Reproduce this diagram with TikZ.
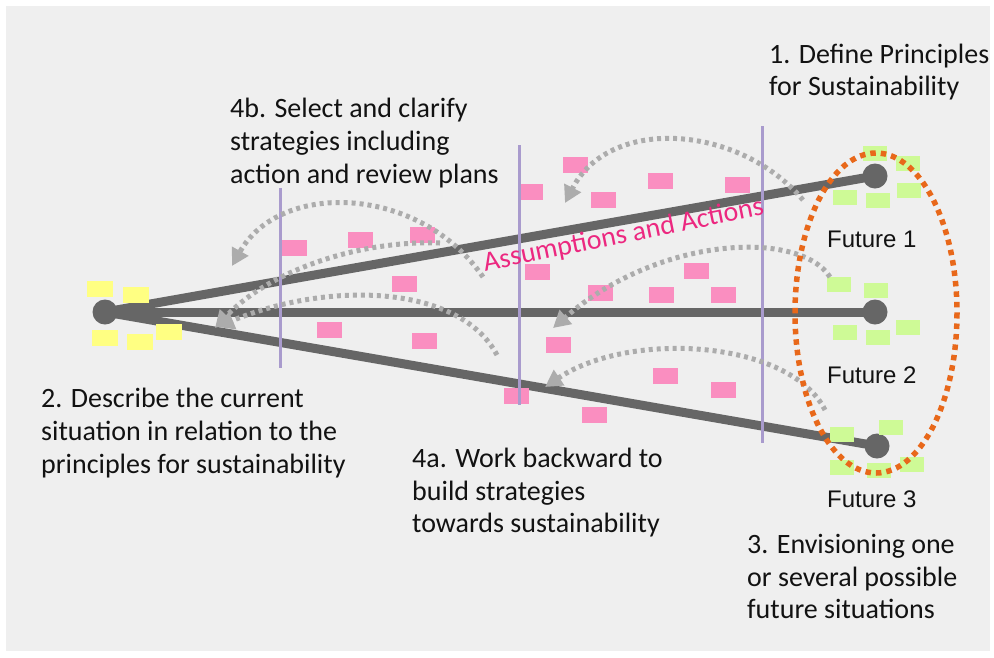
\documentclass[tikz,border=0pt]{standalone}
\usepackage{fontspec}
\setmainfont{Carlito}
\newfontfamily\arialf{Liberation Sans}
\usetikzlibrary{arrows.meta}
\definecolor{bggray}{RGB}{239,239,239}
\definecolor{linegray}{RGB}{102,102,102}
\definecolor{purp}{RGB}{169,155,205}
\definecolor{pinkc}{RGB}{250,142,192}
\definecolor{greenc}{RGB}{206,250,150}
\definecolor{yellowc}{RGB}{255,255,130}
\definecolor{arrgray}{RGB}{172,172,172}
\definecolor{orangec}{RGB}{232,104,26}
\definecolor{pinktext}{RGB}{236,40,128}
\definecolor{txtc}{RGB}{18,18,18}
\tikzset{
  dotnode/.style={circle, fill=linegray, minimum size=25pt, inner sep=0pt},
  mainline/.style={draw=linegray, line width=9pt},
  purpline/.style={draw=purp, line width=3pt},
  pk/.style={fill=pinkc},
  gr/.style={fill=greenc},
  ye/.style={fill=yellowc},
  backarr/.style={draw=arrgray, line width=5pt, dash pattern=on 4pt off 4pt, -{Triangle[length=17pt,width=18pt]}},
  ovaldots/.style={draw=orangec, line width=5.5pt, dash pattern=on 5.5pt off 5pt},
  txt/.style={anchor=base west, inner sep=0pt, text=txtc, font=\fontsize{28}{33}\selectfont},
  futtxt/.style={anchor=base west, inner sep=0pt, text=txtc, font=\arialf\fontsize{24}{28}\selectfont}
}
\begin{document}
\begin{tikzpicture}[x=1pt,y=-1pt]
\useasboundingbox (0,0) rectangle (994,657);
\fill[white] (0,0) rectangle (994,657);
\fill[bggray] (6,6) rectangle (990,651);

% hub and futures
\node[dotnode] (hub) at (105,312) {};
\node[dotnode] (f1) at (875,176) {};
\node[dotnode] (f2) at (875,312) {};
\node[dotnode] (f3) at (877,446) {};
\draw[mainline] (hub.center) -- (f1.center);
\draw[mainline] (hub.center) -- (f2.center);
\draw[mainline] (hub.center) -- (f3.center);

% yellow notes
\foreach \x/\y in {87/281,123/287,92/330,127/334,156/324}
  \fill[ye] (\x,\y) rectangle +(26,16);
% green notes
\foreach \x/\y in {863/146,896/156,833/190,866/193,897/183,827/277,864/283,833/325,866/330,896/320,830/427,879/420,830/460,867/463,900/457}
  \fill[gr] (\x,\y) rectangle +(24,15);
% pink notes
\foreach \x/\y in {282/240,348/232,410/227,392/276,317/322,412/333,518/184,563/157,591/192,648/173,725/177,525/264,588/285,649/287,684/263,711/287,546/337,653/368,711/382,504/388,582/407}
  \fill[pk] (\x,\y) rectangle +(25,16);

% purple milestones
\coordinate (p1t) at (280,188); \coordinate (p1b) at (280,368);
\coordinate (p2t) at (519,145); \coordinate (p2b) at (519,405);
\coordinate (p3t) at (762,126); \coordinate (p3b) at (762,443);
\draw[purpline] (p1t) -- (p1b);
\draw[purpline] (p2t) -- (p2b);
\draw[purpline] (p3t) -- (p3b);

% backcasting arrows
\coordinate (a1s) at (803,200); \coordinate (a1e) at (565,203);
\coordinate (a2s) at (483,277); \coordinate (a2e) at (232,266);
\coordinate (a3s) at (830,277); \coordinate (a3e) at (553,328);
\coordinate (a4s) at (440,243); \coordinate (a4e) at (215,328);
\coordinate (a5s) at (497,355); \coordinate (a5e) at (217,327);
\coordinate (a6s) at (825,410); \coordinate (a6e) at (545,387);
\draw[backarr] (a1s) .. controls (740,125) and (610,115) .. (a1e);
\draw[backarr] (a2s) .. controls (420,185) and (280,180) .. (a2e);
\draw[backarr] (a3s) .. controls (800,230) and (660,235) .. (a3e);
\draw[backarr] (a4s) .. controls (360,240) and (270,270) .. (a4e);
\draw[backarr] (a5s) .. controls (460,285) and (330,280) .. (a5e);
\draw[backarr] (a6s) .. controls (790,340) and (630,330) .. (a6e);

% futures oval
\draw[ovaldots] (876,313) ellipse [x radius=81, y radius=160];

% texts
\node[txt] (t1a) at (769,63) {1. Define Principles};
\node[txt] (t1b) at (769,95) {for Sustainability};
\node[txt] (t4ba) at (230,117) {4b. Select and clarify};
\node[txt] (t4bb) at (230,150) {strategies including};
\node[txt] (t4bc) at (230,183) {action and review plans};
\node[txt] (t2a) at (41,407) {2. Describe the current};
\node[txt] (t2b) at (41,440) {situation in relation to the};
\node[txt] (t2c) at (41,473) {principles for sustainability};
\node[txt] (t4aa) at (412,467) {4a. Work backward to};
\node[txt] (t4ab) at (412,500) {build strategies};
\node[txt] (t4ac) at (412,532) {towards sustainability};
\node[txt] (t3a) at (747,553) {3. Envisioning one};
\node[txt] (t3b) at (747,586) {or several possible};
\node[txt] (t3c) at (747,618) {future situations};
\node[futtxt] (fl1) at (827,247) {Future 1};
\node[futtxt] (fl2) at (827,383) {Future 2};
\node[futtxt] (fl3) at (827,507) {Future 3};
\node[anchor=base, inner sep=0pt, rotate=11.4, text=pinktext, font=\fontsize{28}{32}\selectfont] (aa) at (625,243) {Assumptions and Actions};
\end{tikzpicture}
\end{document}
